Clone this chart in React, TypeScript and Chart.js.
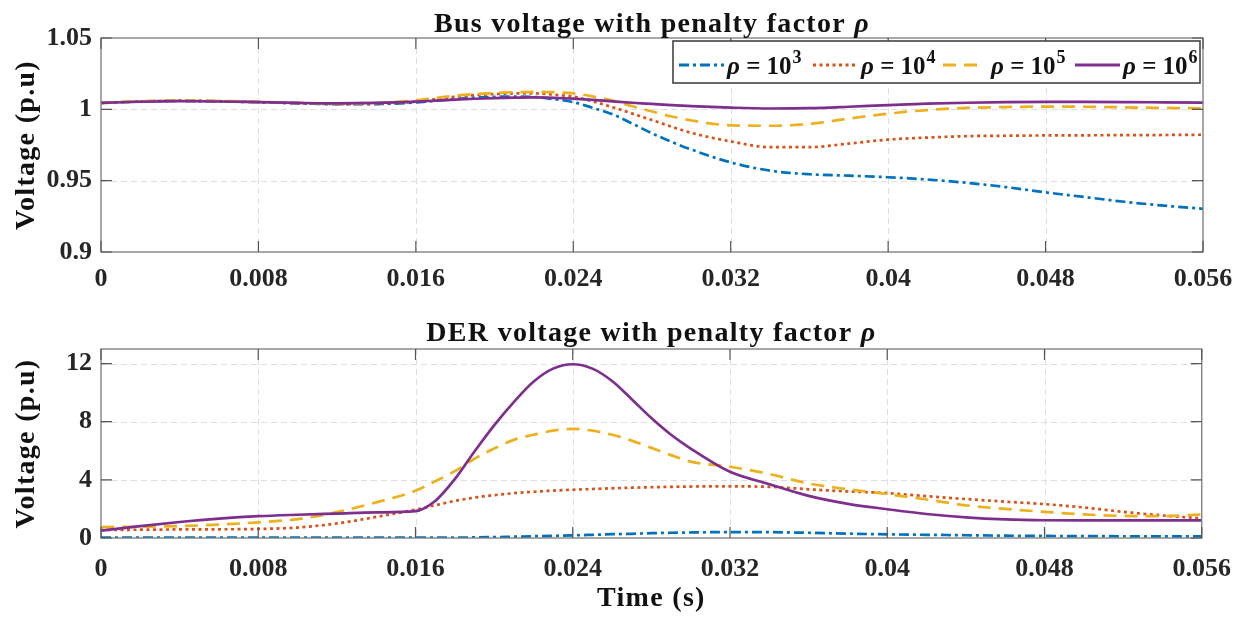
import React, { useEffect, useRef } from "react";
import { Chart, registerables } from "chart.js";

Chart.register(...registerables);

// ---------- data ----------
const time = [
  0, 0.002, 0.004, 0.006, 0.008, 0.01, 0.012, 0.014,
  0.016, 0.017, 0.018, 0.019, 0.02, 0.021, 0.022, 0.023, 0.024, 0.025, 0.026, 0.027, 0.028, 0.029, 0.03,
  0.032, 0.034, 0.036, 0.038, 0.04, 0.042, 0.044, 0.046, 0.048, 0.05, 0.052, 0.054, 0.056,
];

const busRho3 = [
  1.0045, 1.0055, 1.006, 1.0056, 1.005, 1.0042, 1.0036, 1.0037,
  1.0048, 1.006, 1.0072, 1.0082, 1.0088, 1.009, 1.0087, 1.0072, 1.005, 1.001, 0.9965, 0.99, 0.9832, 0.9772, 0.9718,
  0.9628, 0.957, 0.9545, 0.9535, 0.9524, 0.9508, 0.9485, 0.9455, 0.9418, 0.9385, 0.9352, 0.9325, 0.9303,
];
const busRho4 = [
  1.0045, 1.0055, 1.006, 1.0057, 1.0051, 1.0043, 1.0037, 1.004,
  1.0054, 1.0072, 1.0088, 1.01, 1.0107, 1.0111, 1.0112, 1.0103, 1.0089, 1.0055, 1.0015, 0.997, 0.9925, 0.9878, 0.9835,
  0.9775, 0.9735, 0.9735, 0.976, 0.9788, 0.9802, 0.9812, 0.9815, 0.9817, 0.9818, 0.9819, 0.982, 0.9822,
];
const busRho5 = [
  1.0046, 1.0056, 1.0061, 1.0058, 1.0053, 1.0046, 1.0042, 1.0046,
  1.0063, 1.008, 1.0096, 1.0107, 1.0115, 1.012, 1.0123, 1.012, 1.0112, 1.009, 1.0062, 1.0022, 0.9985, 0.995, 0.9922,
  0.9888, 0.9885, 0.9898, 0.9935, 0.997, 0.9995, 1.001, 1.0016, 1.0019, 1.0018, 1.0014, 1.001, 1.0007,
];
const busRho6 = [
  1.0045, 1.0053, 1.0057, 1.0055, 1.005, 1.0045, 1.0042, 1.0045,
  1.0054, 1.0061, 1.0068, 1.0074, 1.0079, 1.0082, 1.0084, 1.0081, 1.0075, 1.0066, 1.0056, 1.0046, 1.0038, 1.003, 1.0023,
  1.0012, 1.0006, 1.0008, 1.0018, 1.003, 1.004, 1.0046, 1.005, 1.0052, 1.0052, 1.0051, 1.0049, 1.0047,
];

const derRho3 = [
  0.02, 0.02, 0.02, 0.02, 0.02, 0.02, 0.02, 0.02,
  0.02, 0.02, 0.03, 0.04, 0.06, 0.09, 0.12, 0.15, 0.18, 0.22, 0.26, 0.29, 0.33, 0.36, 0.38,
  0.41, 0.4, 0.36, 0.3, 0.25, 0.22, 0.19, 0.16, 0.14, 0.13, 0.12, 0.11, 0.11,
];
const derRho4 = [
  0.55, 0.57, 0.59, 0.6, 0.62, 0.72, 1.0, 1.45,
  1.95, 2.25, 2.55, 2.78, 2.95, 3.08, 3.18, 3.26, 3.32, 3.37, 3.42, 3.46, 3.49, 3.52, 3.54,
  3.55, 3.52, 3.35, 3.2, 3.09, 2.88, 2.68, 2.5, 2.33, 2.1, 1.8, 1.55, 1.35,
];
const derRho5 = [
  0.75, 0.78, 0.82, 0.92, 1.08, 1.3, 1.78, 2.45,
  3.25, 3.9, 4.6, 5.45, 6.15, 6.75, 7.1, 7.38, 7.5, 7.38, 7.1, 6.7, 6.2, 5.7, 5.25,
  4.9, 4.4, 3.75, 3.35, 3.02, 2.65, 2.25, 2.0, 1.8, 1.62, 1.52, 1.5, 1.62,
];
const derRho6 = [
  0.5, 0.82, 1.1, 1.33, 1.5, 1.6, 1.68, 1.76,
  1.85, 2.55, 4.05, 5.95, 7.75, 9.35, 10.75, 11.65, 11.95, 11.65, 10.8, 9.55, 8.25, 7.1, 6.15,
  4.55, 3.7, 2.9, 2.35, 1.98, 1.65, 1.42, 1.28, 1.22, 1.21, 1.21, 1.21, 1.21,
];

const timeTicks = [0, 0.008, 0.016, 0.024, 0.032, 0.04, 0.048, 0.056];
const timeTickLabels = ["0", "0.008", "0.016", "0.024", "0.032", "0.04", "0.048", "0.056"];
const busTicks = [0.9, 0.95, 1, 1.05];
const busTickLabels = ["0.9", "0.95", "1", "1.05"];
const derTicks = [0, 4, 8, 12];
const derTickLabels = ["0", "4", "8", "12"];

const rhoExponents = ["3", "4", "5", "6"];
const seriesColors = ["#0072BD", "#D95319", "#EDB120", "#7E2F8E"];
const seriesDashes = [[10, 4, 3, 4], [3, 3.5], [13, 8], []];

// ---------- styling ----------
const FONT = '"Liberation Serif", "Times New Roman", serif';
const TEXT_COLOR = "#262626";
const GRID_COLOR = "#dedede";
const BOX_COLOR = "#7a7a7a";

type FrameCfg = {
  xTicks: number[];
  yTicks: number[];
  title: string;
  titleBaseline: number;
  legend: boolean;
  xLabel: boolean;
};

function makeFramePlugin(cfg: FrameCfg) {
  return {
    id: "frame",
    beforeDatasetsDraw(chart: any) {
      const { ctx, chartArea: ca, scales } = chart;
      ctx.save();
      ctx.strokeStyle = GRID_COLOR;
      ctx.lineWidth = 1;
      ctx.setLineDash([6, 4]);
      for (const v of cfg.xTicks) {
        const px = Math.round(scales.x.getPixelForValue(v)) + 0.5;
        if (px <= ca.left + 2 || px >= ca.right - 2) continue;
        ctx.beginPath();
        ctx.moveTo(px, ca.top);
        ctx.lineTo(px, ca.bottom);
        ctx.stroke();
      }
      for (const v of cfg.yTicks) {
        const py = Math.round(scales.y.getPixelForValue(v)) + 0.5;
        if (py <= ca.top + 2 || py >= ca.bottom - 2) continue;
        ctx.beginPath();
        ctx.moveTo(ca.left, py);
        ctx.lineTo(ca.right, py);
        ctx.stroke();
      }
      ctx.restore();
    },
    afterDatasetsDraw(chart: any) {
      const { ctx, chartArea: ca, scales } = chart;
      ctx.save();
      // box
      ctx.strokeStyle = BOX_COLOR;
      ctx.lineWidth = 1.3;
      ctx.setLineDash([]);
      ctx.strokeRect(ca.left, ca.top, ca.right - ca.left, ca.bottom - ca.top);
      // inward ticks
      const tl = 11;
      ctx.strokeStyle = "#555555";
      ctx.lineWidth = 1.2;
      for (const v of cfg.xTicks) {
        const px = scales.x.getPixelForValue(v);
        ctx.beginPath();
        ctx.moveTo(px, ca.bottom);
        ctx.lineTo(px, ca.bottom - tl);
        ctx.moveTo(px, ca.top);
        ctx.lineTo(px, ca.top + tl);
        ctx.stroke();
      }
      for (const v of cfg.yTicks) {
        const py = scales.y.getPixelForValue(v);
        ctx.beginPath();
        ctx.moveTo(ca.left, py);
        ctx.lineTo(ca.left + tl, py);
        ctx.moveTo(ca.right, py);
        ctx.lineTo(ca.right - tl, py);
        ctx.stroke();
      }
      // legend
      if (cfg.legend) {
        const boxW = 527;
        const boxH = 42;
        const boxR = ca.right - 3;
        const boxL = boxR - boxW;
        const boxT = ca.top + 3;
        ctx.fillStyle = "#ffffff";
        ctx.fillRect(boxL, boxT, boxW, boxH);
        ctx.strokeStyle = "#444444";
        ctx.lineWidth = 1.6;
        ctx.strokeRect(boxL, boxT, boxW, boxH);
        const sampleOffsets = [6, 140, 270, 402];
        const textOffsets = [54, 188, 318, 450];
        for (let i = 0; i < 4; i++) {
          const sx = boxL + sampleOffsets[i];
          const ly = boxT + 24;
          ctx.strokeStyle = seriesColors[i];
          ctx.lineWidth = 2.8;
          ctx.setLineDash(seriesDashes[i]);
          ctx.beginPath();
          ctx.moveTo(sx, ly);
          ctx.lineTo(sx + (i === 2 ? 36 : 45), ly);
          ctx.stroke();
          ctx.setLineDash([]);
          let tx = boxL + textOffsets[i];
          const base = boxT + 33;
          ctx.fillStyle = "#111111";
          ctx.textBaseline = "alphabetic";
          ctx.textAlign = "left";
          ctx.font = `italic bold 25px ${FONT}`;
          ctx.fillText("ρ", tx, base);
          tx += ctx.measureText("ρ").width;
          ctx.font = `bold 25px ${FONT}`;
          ctx.fillText(" = 10", tx, base);
          tx += ctx.measureText(" = 10").width;
          ctx.font = `bold 18px ${FONT}`;
          ctx.fillText(rhoExponents[i], tx + 1, base - 11);
        }
      }
      ctx.restore();
    },
    afterDraw(chart: any) {
      const { ctx, chartArea: ca } = chart;
      ctx.save();
      ctx.fillStyle = "#111111";
      (ctx as any).letterSpacing = "1.3px";
      // title
      ctx.textBaseline = "alphabetic";
      ctx.textAlign = "left";
      ctx.font = `bold 28px ${FONT}`;
      const mainW = ctx.measureText(cfg.title).width;
      ctx.font = `italic bold 28px ${FONT}`;
      const rhoW = ctx.measureText("ρ").width;
      const cx = (ca.left + ca.right) / 2;
      let tx = cx - (mainW + rhoW) / 2;
      ctx.font = `bold 28px ${FONT}`;
      ctx.fillText(cfg.title, tx, cfg.titleBaseline);
      ctx.font = `italic bold 28px ${FONT}`;
      ctx.fillText("ρ", tx + mainW, cfg.titleBaseline);
      // y label
      ctx.font = `bold 28px ${FONT}`;
      ctx.textAlign = "center";
      ctx.textBaseline = "middle";
      ctx.save();
      ctx.translate(27, (ca.top + ca.bottom) / 2);
      ctx.rotate(-Math.PI / 2);
      ctx.fillText("Voltage (p.u)", 0, 0);
      ctx.restore();
      if (cfg.xLabel) {
        ctx.fillText("Time (s)", cx, 299);
      }
      ctx.restore();
    },
  };
}

function buildDatasets(series: number[][]) {
  return series.map((vals, i) => ({
    label: `rho = 10^${rhoExponents[i]}`,
    data: time.map((t, k) => ({ x: t, y: vals[k] })),
    borderColor: seriesColors[i],
    backgroundColor: seriesColors[i],
    borderWidth: 2.7,
    borderDash: seriesDashes[i],
    borderCapStyle: "butt" as const,
    pointRadius: 0,
    fill: false,
    cubicInterpolationMode: "monotone" as const,
    order: 3 - i,
  }));
}

function makeConfig(opts: {
  series: number[][];
  yMin: number;
  yMax: number;
  yTicks: number[];
  yLabels: string[];
  padTop: number;
  xAxisH: number;
  xPad: number;
  frame: FrameCfg;
}): any {
  const tickFont = { family: FONT, size: 26, weight: "bold" as const };
  return {
    type: "line",
    data: { datasets: buildDatasets(opts.series) },
    options: {
      animation: false,
      responsive: false,
      maintainAspectRatio: false,
      devicePixelRatio: 1,
      layout: { padding: { left: 0, right: 44, top: opts.padTop, bottom: 0 } },
      plugins: {
        legend: { display: false },
        title: { display: false },
        tooltip: { enabled: false },
      },
      scales: {
        x: {
          type: "linear",
          min: 0,
          max: 0.056,
          grid: { display: false, drawTicks: false, tickLength: 0 },
          border: { display: false },
          afterBuildTicks: (axis: any) => {
            axis.ticks = timeTicks.map((v) => ({ value: v }));
          },
          afterFit: (axis: any) => {
            axis.height = opts.xAxisH;
          },
          ticks: {
            autoSkip: false,
            maxRotation: 0,
            minRotation: 0,
            padding: opts.xPad,
            color: TEXT_COLOR,
            font: tickFont,
            callback: (_v: any, i: number) => timeTickLabels[i],
          },
        },
        y: {
          type: "linear",
          min: opts.yMin,
          max: opts.yMax,
          grid: { display: false, drawTicks: false, tickLength: 0 },
          border: { display: false },
          afterBuildTicks: (axis: any) => {
            axis.ticks = opts.yTicks.map((v) => ({ value: v }));
          },
          afterFit: (axis: any) => {
            axis.width = 101;
          },
          ticks: {
            autoSkip: false,
            padding: 9,
            color: TEXT_COLOR,
            font: tickFont,
            callback: (_v: any, i: number) => opts.yLabels[i],
          },
        },
      },
    },
    plugins: [makeFramePlugin(opts.frame)],
  };
}

export default function App() {
  const topRef = useRef<HTMLCanvasElement>(null);
  const botRef = useRef<HTMLCanvasElement>(null);

  useEffect(() => {
    const top = new Chart(
      topRef.current!,
      makeConfig({
        series: [busRho3, busRho4, busRho5, busRho6],
        yMin: 0.9,
        yMax: 1.05,
        yTicks: busTicks,
        yLabels: busTickLabels,
        padTop: 38,
        xAxisH: 48,
        xPad: 12,
        frame: {
          xTicks: timeTicks,
          yTicks: busTicks,
          title: "Bus voltage with penalty factor ",
          titleBaseline: 32,
          legend: true,
          xLabel: false,
        },
      })
    );
    const bottom = new Chart(
      botRef.current!,
      makeConfig({
        series: [derRho3, derRho4, derRho5, derRho6],
        yMin: 0,
        yMax: 13,
        yTicks: derTicks,
        yLabels: derTickLabels,
        padTop: 49,
        xAxisH: 79,
        xPad: 16,
        frame: {
          xTicks: timeTicks,
          yTicks: derTicks,
          title: "DER voltage with penalty factor ",
          titleBaseline: 41,
          legend: false,
          xLabel: true,
        },
      })
    );
    return () => {
      top.destroy();
      bottom.destroy();
    };
  }, []);

  return (
    <div style={{ position: "fixed", left: 0, top: 0, width: 1247, height: 617, background: "#ffffff" }}>
      <canvas
        ref={topRef}
        width={1247}
        height={300}
        style={{ position: "absolute", left: 0, top: 0, width: 1247, height: 300 }}
      />
      <canvas
        ref={botRef}
        width={1247}
        height={317}
        style={{ position: "absolute", left: 0, top: 300, width: 1247, height: 317 }}
      />
    </div>
  );
}
